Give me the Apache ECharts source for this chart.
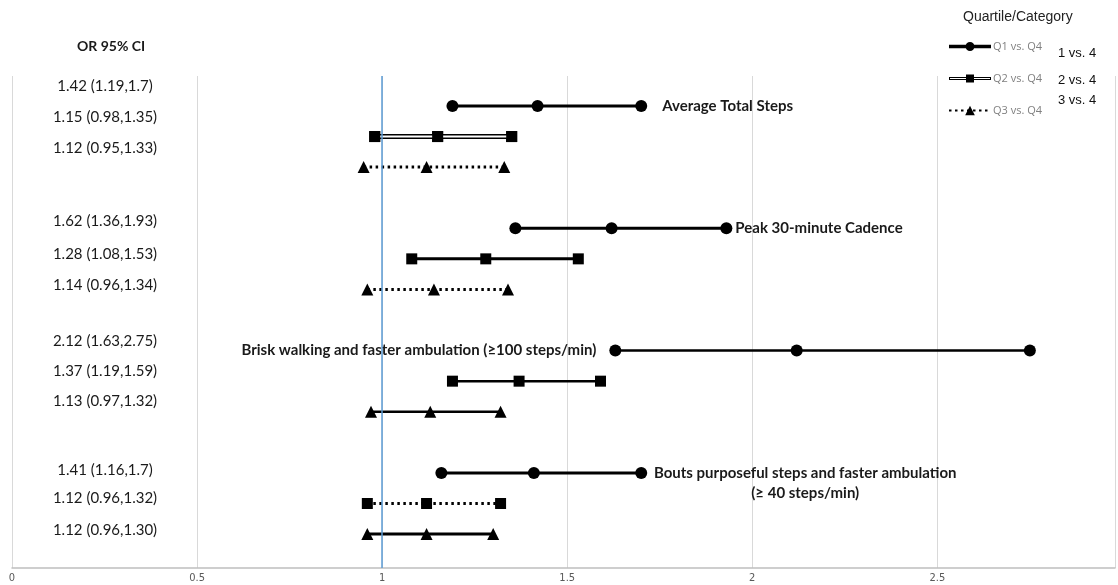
<!DOCTYPE html>
<html>
<head>
<meta charset="UTF-8">
<title>Odds ratios by quartile</title>
<script src="https://cdn.jsdelivr.net/npm/echarts@6/dist/echarts.min.js"></script>
<style>
  html, body { margin: 0; padding: 0; background: #fff; }
  #main { width: 1118px; height: 585px; }
</style>
</head>
<body>
<div id="main"></div>
<script>
// data
var outcomes = [
  'Average Total Steps',
  'Peak 30-minute Cadence',
  'Brisk walking and faster ambulation (≥100 steps/min)',
  'Bouts purposeful steps and faster ambulation\n(≥ 40 steps/min)'
];
var quartiles = ['Q1 vs. Q4', 'Q2 vs. Q4', 'Q3 vs. Q4'];
var orValues = [[1.42, 1.15, 1.12], [1.62, 1.28, 1.14], [2.12, 1.37, 1.13], [1.41, 1.12, 1.12]];
var ciLow    = [[1.19, 0.98, 0.95], [1.36, 1.08, 0.96], [1.63, 1.19, 0.97], [1.16, 0.96, 0.96]];
var ciHigh   = [[1.7, 1.35, 1.33], [1.93, 1.53, 1.34], [2.75, 1.59, 1.32], [1.7, 1.32, 1.30]];
var ciText = [
  '1.42 (1.19,1.7)', '1.15 (0.98,1.35)', '1.12 (0.95,1.33)',
  '1.62 (1.36,1.93)', '1.28 (1.08,1.53)', '1.14 (0.96,1.34)',
  '2.12 (1.63,2.75)', '1.37 (1.19,1.59)', '1.13 (0.97,1.32)',
  '1.41 (1.16,1.7)', '1.12 (0.96,1.32)', '1.12 (0.96,1.30)'
];
var categoryText = ['1 vs. 4', '2 vs. 4', '3 vs. 4'];

// styles
var dotted = [2.5, 3.5];
var lineKinds = [
  ['solid', 'double', 'dotted'],
  ['solid', 'solid', 'dotted'],
  ['solid', 'solid', 'solid'],
  ['solid', 'dotted', 'solid']
];
var lineWidths = [3, 3, 2.5, 3];
var symbols = ['circle', 'rect', 'triangle'];
var symbolSizes = [12, 11, 12];
var tableTops = [86, 117, 148, 221, 254, 285, 341, 371, 401, 470, 498, 530];
var font = 'Lato, "Open Sans", sans-serif';

// where the outcome name sits relative to the Q1 line: [point index, label options]
var annot = [
  [2, { position: 'right', distance: 15 }],
  [2, { position: 'right', distance: 3 }],
  [0, { position: 'left', distance: 13 }],
  [2, { position: [170, 16], align: 'center', verticalAlign: 'middle', lineHeight: 20 }]
];

var series = [];
outcomes.forEach(function (name, g) {
  quartiles.forEach(function (q, k) {
    var row = g * 4 + k;
    var kind = lineKinds[g][k];
    var pts = [[ciLow[g][k], row], [orValues[g][k], row], [ciHigh[g][k], row]];
    var data = pts.map(function (p) { return { value: p }; });
    if (k === 0) {
      var a = annot[g];
      data[a[0]].label = Object.assign({
        show: true, formatter: name, color: '#1a1a1a',
        fontFamily: font, fontWeight: 'bold', fontSize: 15
      }, a[1]);
    }
    series.push({
      type: 'line',
      name: g === 0 ? q : name + ' ' + q,
      data: data,
      symbol: symbols[k],
      symbolSize: symbolSizes[k],
      showAllSymbol: true,
      silent: true,
      animation: false,
      itemStyle: { color: '#000' },
      lineStyle: {
        color: '#000',
        width: kind === 'double' ? 5 : lineWidths[g],
        type: kind === 'dotted' ? dotted : 'solid',
        cap: 'butt'
      },
      z: 3
    });
    if (kind === 'double') {
      // white core on top of the thick black line gives the double rule
      series.push({
        type: 'line',
        name: name + ' ' + q + ' inner',
        data: pts,
        symbol: symbols[k],
        symbolSize: symbolSizes[k],
        silent: true,
        animation: false,
        itemStyle: { color: '#000' },
        lineStyle: { color: '#fff', width: 2 },
        z: 4
      });
    }
  });
});

// reference line at OR = 1
series[0].markLine = {
  silent: true,
  symbol: 'none',
  label: { show: false },
  lineStyle: { color: '#5b9bd5', width: 1.5, type: 'solid' },
  data: [{ xAxis: 1 }]
};

var graphics = [
  {
    type: 'text', left: 77, top: 39,
    style: { text: 'OR 95% CI', font: 'bold 14px ' + font, fill: '#1a1a1a' }
  },
  {
    type: 'text', left: 963, top: 10,
    style: { text: 'Quartile/Category', font: '14px "Liberation Sans", Arial, sans-serif', fill: '#222' }
  }
];
ciText.forEach(function (t, i) {
  graphics.push({
    type: 'text', x: 105, y: tableTops[i],
    style: { text: t, font: '15px ' + font, fill: '#1a1a1a', align: 'center', verticalAlign: 'middle' }
  });
});
var catTops = [53, 80, 100];
categoryText.forEach(function (t, i) {
  graphics.push({
    type: 'text', x: 1058, y: catTops[i],
    style: { text: t, font: '13px "Liberation Sans", Arial, sans-serif', fill: '#111', verticalAlign: 'middle' }
  });
});

var chart = echarts.init(document.getElementById('main'));
chart.setOption({
  backgroundColor: '#fff',
  animation: false,
  grid: { left: 12, right: 0, top: 76, bottom: 17, containLabel: false },
  xAxis: {
    type: 'value',
    min: 0, max: 2.98, interval: 0.5,
    axisLine: { show: true, onZero: false, lineStyle: { color: '#bfbfbf', width: 1.5 } },
    axisTick: { show: false },
    axisLabel: {
      color: '#595959', fontSize: 11, fontFamily: '"Liberation Sans Narrow", "DejaVu Sans Condensed", sans-serif',
      margin: 5,
      formatter: function (v) { return (v * 2) % 1 === 0 && v < 2.9 ? String(v) : ''; }
    },
    splitLine: { show: true, lineStyle: { color: '#d9d9d9', width: 1 } }
  },
  yAxis: {
    type: 'value',
    inverse: true,
    min: -0.98, max: 15.11,
    show: false
  },
  legend: {
    orient: 'vertical',
    left: 948, top: 41,
    padding: 0,
    itemWidth: 42, itemHeight: 12, itemGap: 21,
    selectedMode: false,
    textStyle: { color: '#808080', fontSize: 11, fontFamily: '"Open Sans", sans-serif', padding: [0, 0, 0, -3] },
    data: [
      {
        name: quartiles[0],
        icon: 'path://M0,3L42,3L42,6.5L0,6.5Z M16.5,4.75A4.5,4.5,0,1,1,25.5,4.75A4.5,4.5,0,1,1,16.5,4.75Z',
        itemStyle: { color: '#000' }
      },
      {
        name: quartiles[1],
        icon: 'path://M0,3.5L42,3.5L42,6.5L0,6.5Z M1,4.4L1,5.6L41,5.6L41,4.4Z M17,1L25,1L25,9L17,9Z',
        itemStyle: { color: '#000' }
      },
      { name: quartiles[2] }
    ]
  },
  graphic: graphics,
  series: series
});
</script>
</body>
</html>
